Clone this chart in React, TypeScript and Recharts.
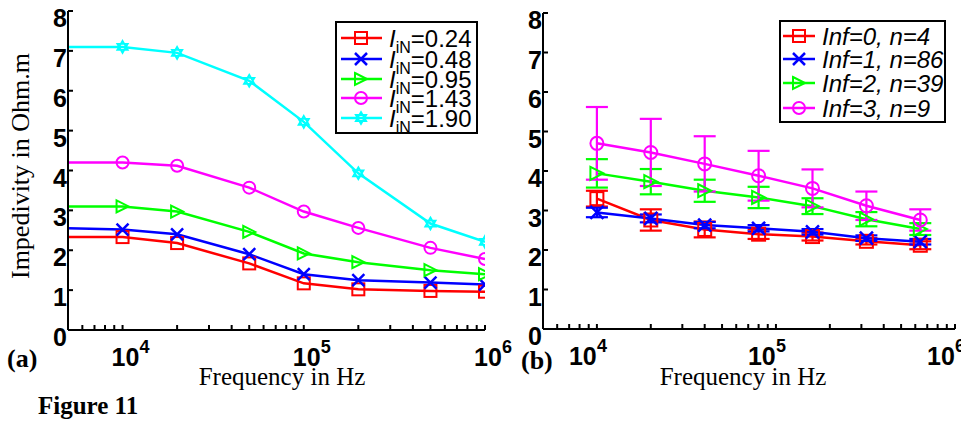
import React from 'react';
import { LineChart, Line, XAxis, YAxis, ErrorBar } from 'recharts';

// ---------- data: panel (a) ----------
const freqA = [5000, 1e4, 2e4, 5e4, 1e5, 2e5, 5e5, 1e6];
const iN024 = [2.33, 2.33, 2.18, 1.67, 1.17, 1.02, 0.98, 0.96];
const iN048 = [2.55, 2.52, 2.4, 1.9, 1.4, 1.25, 1.19, 1.14];
const iN095 = [3.1, 3.1, 2.97, 2.46, 1.92, 1.7, 1.5, 1.4];
const iN143 = [4.2, 4.2, 4.12, 3.57, 2.97, 2.56, 2.06, 1.78];
const iN190 = [7.1, 7.1, 6.95, 6.25, 5.22, 3.93, 2.67, 2.21];
const legendA = ['0.24', '0.48', '0.95', '1.43', '1.90'];

// ---------- data: panel (b) ----------
const freqB = [1e4, 2e4, 4e4, 8e4, 1.6e5, 3.2e5, 6.4e5];
const inf0 = [3.3, 2.76, 2.52, 2.4, 2.34, 2.22, 2.12];
const inf0Err = [0.2, 0.27, 0.2, 0.12, 0.1, 0.08, 0.1];
const inf1 = [2.95, 2.8, 2.63, 2.55, 2.46, 2.3, 2.21];
const inf1Err = [0.12, 0.1, 0.08, 0.08, 0.07, 0.07, 0.07];
const inf2 = [3.94, 3.73, 3.5, 3.33, 3.11, 2.78, 2.53];
const inf2Err = [0.36, 0.32, 0.28, 0.27, 0.2, 0.18, 0.15];
const inf3 = [4.7, 4.47, 4.18, 3.88, 3.56, 3.12, 2.76];
const inf3Err = [0.92, 0.85, 0.7, 0.63, 0.48, 0.36, 0.27];
const legendB = ['Inf=0, n=4', 'Inf=1, n=86', 'Inf=2, n=39', 'Inf=3, n=9'];

// ---------- ticks ----------
const yTicks = [0, 1, 2, 3, 4, 5, 6, 7, 8];
const xMajorTicks = [1e4, 1e5, 1e6];
const xMinorTicks = [6000, 7000, 8000, 9000, 2e4, 3e4, 4e4, 5e4, 6e4, 7e4, 8e4, 9e4, 2e5, 3e5, 4e5, 5e5, 6e5, 7e5, 8e5, 9e5];
const xAllTicks = [...xMinorTicks, ...xMajorTicks].sort((a, b) => a - b);
const xDomain = [5000, 1e6];

const rowsA = freqA.map((f, i) => ({ f, a: iN024[i], b: iN048[i], c: iN095[i], d: iN143[i], e: iN190[i] }));
const rowsB = freqB.map((f, i) => ({
  f, a: inf0[i], ae: inf0Err[i], b: inf1[i], be: inf1Err[i], c: inf2[i], ce: inf2Err[i], d: inf3[i], de: inf3Err[i],
}));

const seriesA = [
  { key: 'a', color: '#ff0000', shape: 'square' },
  { key: 'b', color: '#0000ff', shape: 'x' },
  { key: 'c', color: '#00ff00', shape: 'triangle' },
  { key: 'd', color: '#ff00ff', shape: 'circle' },
  { key: 'e', color: '#00ffff', shape: 'star' },
];
const seriesB = [
  { key: 'a', color: '#ff0000', shape: 'square' },
  { key: 'b', color: '#0000ff', shape: 'x' },
  { key: 'c', color: '#00ff00', shape: 'triangle' },
  { key: 'd', color: '#ff00ff', shape: 'circle' },
];

const SANS = '"Liberation Sans", Arial, Helvetica, sans-serif';
const SERIF = '"Liberation Serif", "Times New Roman", serif';

function Marker({ shape, cx, cy, color, size }: any) {
  const s = size / 2;
  const sw = 2;
  if (shape === 'square') return <rect x={cx - s} y={cy - s} width={size} height={size} fill="none" stroke={color} strokeWidth={sw} />;
  if (shape === 'x') return <path d={`M${cx - s},${cy - s}L${cx + s},${cy + s}M${cx - s},${cy + s}L${cx + s},${cy - s}`} stroke={color} strokeWidth={2.5} fill="none" />;
  if (shape === 'triangle') return <path d={`M${cx - s},${cy - s}L${cx + s},${cy}L${cx - s},${cy + s}Z`} stroke={color} strokeWidth={sw} fill="none" />;
  if (shape === 'circle') return <circle cx={cx} cy={cy} r={s} stroke={color} strokeWidth={sw} fill="none" />;
  // hexagram
  const pts = (off: number) => [0, 1, 2].map((k) => {
    const a = (-90 + off + k * 120) * Math.PI / 180;
    return `${cx + s * Math.cos(a)},${cy + s * Math.sin(a)}`;
  });
  const t1 = pts(0), t2 = pts(60);
  return <path d={`M${t1.join('L')}ZM${t2.join('L')}Z`} stroke={color} strokeWidth={1.8} fill="none" />;
}

const makeDot = (shape: string, color: string, size: number, skipFirst: boolean) => (props: any) => {
  const { cx, cy, index } = props;
  if ((skipFirst && index === 0) || cx == null || cy == null) return <g key={`dot-${index}`} />;
  return <g key={`dot-${index}`}><Marker shape={shape} cx={cx} cy={cy} color={color} size={size} /></g>;
};

const makeXTick = (offset: number) => (props: any) => {
  const { x, y, payload } = props;
  const v = payload.value;
  if (!xMajorTicks.includes(v)) return <g />;
  const exp = Math.round(Math.log10(v));
  return (
    <g>
      <text x={x + offset} y={y + 36} fontSize={25} fontWeight="bold" fontFamily={SANS} fill="#000">10</text>
      <text x={x + offset + 28} y={y + 23} fontSize={18} fontWeight="bold" fontFamily={SANS} fill="#000">{exp}</text>
    </g>
  );
};

const YTick = (props: any) => {
  const { x, y, payload } = props;
  return <text x={x - 1} y={y + 16} textAnchor="end" fontSize={25} fontWeight="bold" fontFamily={SANS} fill="#000">{payload.value}</text>;
};

const axisCommon = { stroke: '#000', strokeWidth: 2 };

function Panel({ rows, series, withErr, skipFirst, width, margin, yAxisWidth, markerSize, xLabelOffset }: any) {
  return (
    <LineChart width={width} height={423} data={rows} margin={margin}>
      <XAxis
        dataKey="f" type="number" scale="log" domain={xDomain} allowDataOverflow ticks={xAllTicks} interval={0}
        tick={makeXTick(xLabelOffset)} tickSize={-5} tickMargin={5} height={60} axisLine={axisCommon} tickLine={axisCommon}
      />
      <XAxis
        xAxisId="top" orientation="top" dataKey="f" type="number" scale="log" domain={xDomain} allowDataOverflow
        ticks={xAllTicks} interval={0} tick={false} tickSize={-5} height={0} axisLine={axisCommon} tickLine={axisCommon}
      />
      <YAxis
        type="number" domain={[0, 8]} ticks={yTicks} interval={0} tick={YTick} tickSize={-5} tickMargin={5}
        width={yAxisWidth} axisLine={axisCommon} tickLine={axisCommon} allowDataOverflow
      />
      <YAxis
        yAxisId="right" orientation="right" type="number" domain={[0, 8]} ticks={yTicks} interval={0} tick={false}
        tickSize={-5} width={0} axisLine={axisCommon} tickLine={axisCommon} allowDataOverflow
      />
      {series.map((s: any) => (
        <Line
          key={s.key} type="linear" dataKey={s.key} stroke={s.color} strokeWidth={2.5}
          dot={makeDot(s.shape, s.color, markerSize, skipFirst)} activeDot={false} isAnimationActive={false}
        >
          {withErr ? (
            <ErrorBar dataKey={`${s.key}e`} direction="y" width={11} stroke={s.color} strokeWidth={2.2} isAnimationActive={false} />
          ) : null}
        </Line>
      ))}
    </LineChart>
  );
}

function Overlay() {
  const rowYA = [38, 59, 79, 98, 118];
  const rowYB = [36, 59, 83, 108];
  return (
    <svg width={961} height={423} style={{ position: 'absolute', left: 0, top: 0, pointerEvents: 'none' }}>
      {/* y label */}
      <text transform="translate(29,166) rotate(-90)" textAnchor="middle" fontSize={26} fontFamily={SERIF} fill="#000">
        Impedivity in Ohm.m
      </text>
      {/* x labels */}
      <text x={282} y={385} textAnchor="middle" fontSize={25} fontFamily={SERIF} fill="#000">Frequency in Hz</text>
      <text x={743} y={385} textAnchor="middle" fontSize={25} fontFamily={SERIF} fill="#000">Frequency in Hz</text>
      <text x={7} y={367} fontSize={26} fontWeight="bold" fontFamily={SERIF} fill="#000">(a)</text>
      <text x={521} y={369} fontSize={26} fontWeight="bold" fontFamily={SERIF} fill="#000">(b)</text>
      <text x={38} y={414} fontSize={25} fontWeight="bold" fontFamily={SERIF} fill="#000">Figure 11</text>

      {/* legend a */}
      <rect x={336} y={22} width={141} height={111} fill="#fff" stroke="#000" strokeWidth={2} />
      {legendA.map((lab, i) => {
        const s = seriesA[i];
        const y = rowYA[i];
        return (
          <g key={lab}>
            <line x1={341} x2={382} y1={y} y2={y} stroke={s.color} strokeWidth={2.5} />
            <Marker shape={s.shape} cx={361} cy={y} color={s.color} size={12} />
            <text x={389} y={y + 9} fontSize={24} fontFamily={SANS} fill="#000">
              <tspan fontStyle="italic">I</tspan>
              <tspan fontSize={16} dy={6}>iN</tspan>
              <tspan dy={-6}>={lab}</tspan>
            </text>
          </g>
        );
      })}

      {/* legend b */}
      <rect x={780} y={21} width={165} height={101} fill="#fff" stroke="#000" strokeWidth={2} />
      {legendB.map((lab, i) => {
        const s = seriesB[i];
        const y = rowYB[i];
        return (
          <g key={lab}>
            <line x1={783} x2={815} y1={y} y2={y} stroke={s.color} strokeWidth={2.5} />
            <Marker shape={s.shape} cx={799} cy={y} color={s.color} size={12} />
            <text x={822} y={y + 9} fontSize={24} fontStyle="italic" fontFamily={SANS} fill="#000">{lab}</text>
          </g>
        );
      })}
    </svg>
  );
}

export default function App() {
  return (
    <div style={{ position: 'fixed', left: 0, top: 0, width: 961, height: 423, background: '#fff', overflow: 'hidden' }}>
      <div style={{ position: 'absolute', left: 0, top: 0 }}>
        <Panel
          rows={rowsA} series={seriesA} withErr={false} skipFirst={true} width={520}
          margin={{ top: 11, right: 35, bottom: 33, left: 8 }} yAxisWidth={60} markerSize={12} xLabelOffset={-11}
        />
      </div>
      <div style={{ position: 'absolute', left: 500, top: 0 }}>
        <Panel
          rows={rowsB} series={seriesB} withErr={true} skipFirst={false} width={461}
          margin={{ top: 13, right: 6, bottom: 34, left: 8 }} yAxisWidth={35} markerSize={13} xLabelOffset={-28}
        />
      </div>
      <Overlay />
    </div>
  );
}
